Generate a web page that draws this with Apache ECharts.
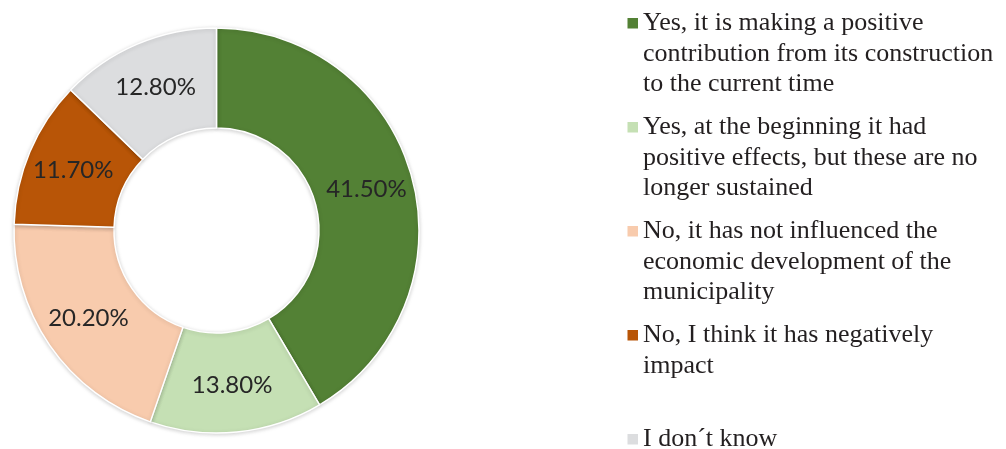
<!DOCTYPE html>
<html>
<head>
<meta charset="utf-8">
<script src="https://cdn.jsdelivr.net/npm/echarts@6/dist/echarts.min.js"></script>
<style>
html,body{margin:0;padding:0;background:#fff;}
#chart{width:1006px;height:449px;}
</style>
</head>
<body>
<div id="chart"></div>
<script>
const categories = [
  "Yes, it is making a positive contribution from its construction to the current time",
  "Yes, at the beginning it had positive effects, but these are no longer sustained",
  "No, it has not influenced the economic development of the municipality",
  "No, I think it has negatively impact",
  "I don´t know"
];
const legendLines = [
  ["Yes, it is making a positive", "contribution from its construction", "to the current time"],
  ["Yes, at the beginning it had", "positive effects, but these are no", "longer sustained"],
  ["No, it has not influenced the", "economic development of the", "municipality"],
  ["No, I think it has negatively", "impact"],
  ["I don´t know"]
];
const values = [41.5, 13.8, 20.2, 11.7, 12.8];
const colors = ["#538135", "#c5e0b4", "#f8cbad", "#b85507", "#dcdddf"];

const LINE_H = 30.5;
const legendTops = [8, 112, 216, 320, 424];

const legends = categories.map((name, i) => {
  const n = legendLines[i].length;
  const H = n * LINE_H;
  const y0 = LINE_H / 2 - 5.25;
  return {
    data: [name],
    orient: 'vertical',
    left: 627.5,
    top: legendTops[i],
    padding: 0,
    itemWidth: 10.5,
    itemHeight: H,
    symbolKeepAspect: false,
    icon: `path://M0,0L10.5,0M0,${y0}h10.5v10.5h-10.5zM0,${H}L10.5,${H}`,
    itemStyle: { borderWidth: 0, shadowBlur: 0 },
    selectedMode: false,
    formatter: () => legendLines[i].join('\n'),
    textStyle: {
      fontFamily: 'Liberation Serif',
      fontSize: 26,
      lineHeight: LINE_H,
      color: '#231f20'
    }
  };
});

const chart = echarts.init(document.getElementById('chart'), null, { renderer: 'canvas' });
chart.setOption({
  animation: false,
  legend: legends,
  series: [{
    type: 'pie',
    center: [216.5, 230.5],
    radius: [102.5, 202.5],
    startAngle: 90,
    clockwise: true,
    avoidLabelOverlap: false,
    data: categories.map((c, i) => ({ name: c, value: values[i], itemStyle: { color: colors[i] } })),
    itemStyle: {
      borderColor: '#ffffff',
      borderWidth: 1.5,
      shadowBlur: 4,
      shadowColor: 'rgba(0,0,0,0.18)',
      shadowOffsetY: 1
    },
    label: {
      show: true,
      position: 'inside',
      formatter: p => p.value.toFixed(2) + '%',
      fontFamily: 'Lato',
      fontSize: 24,
      color: '#262626'
    },
    labelLine: { show: false },
    emphasis: { disabled: true }
  }]
});
</script>
</body>
</html>
